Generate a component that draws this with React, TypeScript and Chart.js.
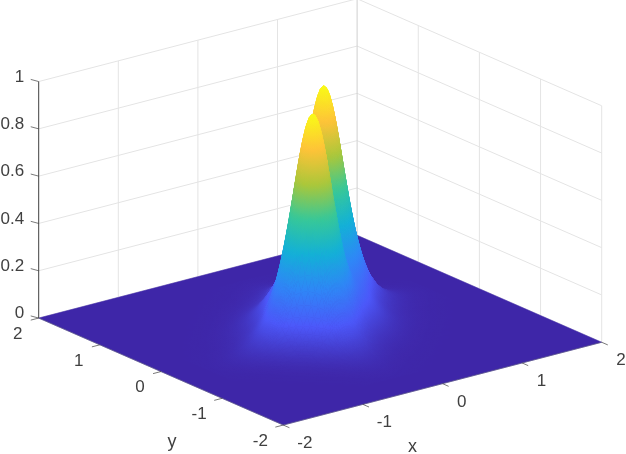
import React, { useEffect, useRef } from "react";
import { Chart, registerables } from "chart.js";

Chart.register(...registerables);

const xTicks = [-2, -1, 0, 1, 2];
const yTicks = [-2, -1, 0, 1, 2];
const zTicks = [0, 0.2, 0.4, 0.6, 0.8, 1];
const zTickLabels = ["0", "0.2", "0.4", "0.6", "0.8", "1"];

// Sample positions of the surface table, closer together round the two peaks
const gridAxis = [
  -1.6, -1.5, -1.4, -1.3, -1.2, -1.1, -1, -0.9, -0.8, -0.75, -0.7, -0.65, -0.6, -0.55, -0.5, -0.45, -0.425, -0.4,
  -0.375, -0.35, -0.325, -0.3, -0.275, -0.25, -0.225, -0.2, -0.175, -0.15, -0.1, -0.05, 0, 0.05, 0.1, 0.15, 0.175, 0.2,
  0.225, 0.25, 0.275, 0.3, 0.325, 0.35, 0.375, 0.4, 0.425, 0.45, 0.5, 0.55, 0.6, 0.65, 0.7, 0.75, 0.8, 0.9, 1, 1.1,
  1.2, 1.3, 1.4, 1.5, 1.6,
];
const peakOffsetX = -0.012;
const peakOffsetY = 0.015;
// Slices
const frontSlice = [
  0.0031, 0.0051, 0.0083, 0.0138, 0.0226, 0.0372, 0.0612, 0.1005, 0.1647, 0.2104, 0.2679, 0.3398, 0.4276, 0.532,
  0.6513, 0.7739, 0.8333, 0.8879, 0.934, 0.9698, 0.9923, 1, 0.9923, 0.9698, 0.934, 0.8879, 0.8333, 0.7739, 0.6513,
  0.532, 0.4276, 0.3398, 0.2679, 0.2104, 0.1862, 0.1647, 0.1455, 0.1287, 0.1138, 0.1005, 0.0888, 0.0784, 0.0692,
  0.0612, 0.054, 0.0477, 0.0372, 0.029, 0.0226, 0.0176, 0.0138, 0.0107, 0.0083, 0.0051, 0.0031, 0.0019, 0.0011,
  0.0007, 0.0004, 0.0003, 0.0002,
];
const backSlice = [
  0.0002, 0.0003, 0.0004, 0.0007, 0.0011, 0.0019, 0.0031, 0.0051, 0.0083, 0.0107, 0.0138, 0.0176, 0.0226, 0.029,
  0.0372, 0.0477, 0.054, 0.0612, 0.0692, 0.0784, 0.0888, 0.1005, 0.1138, 0.1287, 0.1455, 0.1647, 0.1862, 0.2104,
  0.2679, 0.3398, 0.4276, 0.532, 0.6513, 0.7739, 0.8333, 0.8879, 0.934, 0.9698, 0.9923, 1, 0.9923, 0.9698, 0.934,
  0.8879, 0.8333, 0.7739, 0.6513, 0.532, 0.4276, 0.3398, 0.2679, 0.2104, 0.1647, 0.1005, 0.0612, 0.0372, 0.0226,
  0.0138, 0.0083, 0.0051, 0.0031,
];
const frontHeight = 0.963;
const backHeight = 0.963;
const colorTop = 0.975;

const parula = [
  [62, 38, 168],
  [76, 88, 250],
  [46, 135, 247],
  [18, 177, 214],
  [55, 200, 151],
  [171, 199, 57],
  [254, 195, 56],
  [249, 251, 21],
];

const W = 626;
const H = 454;
type P = { x: number; y: number };
const project = (x: number, y: number, z: number): P => ({
  x: 320.2 + 79.6 * x - 61.15 * y,
  y: 330.15 - 20.7 * x - 26.75 * y - 236.5 * z,
});
const projectSurface = (i: number, j: number, z: number) =>
  project(gridAxis[i] + peakOffsetX, gridAxis[j] + peakOffsetY, z);

const colorOf = (z: number) => {
  const t = Math.min(1, Math.max(0, z / colorTop)) * (parula.length - 1);
  const i = Math.min(parula.length - 2, Math.floor(t));
  const f = t - i;
  const c = parula[i].map((v, k) => Math.round(v + (parula[i + 1][k] - v) * f));
  return `rgb(${c[0]},${c[1]},${c[2]})`;
};

const surfaceZ = (i: number, j: number) =>
  frontHeight * frontSlice[i] * frontSlice[j] + backHeight * backSlice[i] * backSlice[j];

// Paint for one triangle whose colour follows its height exactly
function trianglePaint(ctx: CanvasRenderingContext2D, p: P[], z: number[]) {
  const ux = p[1].x - p[0].x, uy = p[1].y - p[0].y, du = z[1] - z[0];
  const vx = p[2].x - p[0].x, vy = p[2].y - p[0].y, dv = z[2] - z[0];
  const det = ux * vy - uy * vx;
  const lo = Math.min(...z), hi = Math.max(...z);
  if (Math.abs(det) < 1e-6 || hi - lo < 1e-5) return colorOf((lo + hi) / 2);
  const gx = (du * vy - dv * uy) / det;
  const gy = (dv * ux - du * vx) / det;
  const g2 = gx * gx + gy * gy;
  const sx = p[0].x + (gx * (lo - z[0])) / g2, sy = p[0].y + (gy * (lo - z[0])) / g2;
  const ex = p[0].x + (gx * (hi - z[0])) / g2, ey = p[0].y + (gy * (hi - z[0])) / g2;
  const grad = ctx.createLinearGradient(sx, sy, ex, ey);
  const steps = 4;
  for (let s = 0; s <= steps; s++) grad.addColorStop(s / steps, colorOf(lo + ((hi - lo) * s) / steps));
  return grad;
}

const lineSet = (pts: P[], color: string, width: number) => ({
  data: pts,
  showLine: true,
  fill: false,
  borderColor: color,
  borderWidth: width,
  pointRadius: 0,
  clip: false as const,
});

const shapeSet = (pts: P[], paint: any, width: number) => ({
  data: pts,
  showLine: true,
  fill: "shape",
  backgroundColor: paint,
  borderColor: paint,
  borderWidth: width,
  pointRadius: 0,
  clip: false as const,
});

const GRID = "#e4e4e4";
const AXIS = "#404040";

function buildDatasets(ctx: CanvasRenderingContext2D) {
  const sets: any[] = [];
  // back walls
  for (const z of zTicks) {
    sets.push(lineSet([project(-2, 2, z), project(2, 2, z), project(2, -2, z)], GRID, 1));
  }
  for (const x of xTicks) {
    if (x !== -2) sets.push(lineSet([project(x, 2, 0), project(x, 2, 1)], x === 2 ? "#cfcfcf" : GRID, 1));
  }
  for (const y of yTicks) {
    if (y !== 2) sets.push(lineSet([project(2, y, 0), project(2, y, 1)], GRID, 1));
  }
  // floor of the surface
  sets.push(
    shapeSet(
      [project(-2, 2, 0), project(2, 2, 0), project(2, -2, 0), project(-2, -2, 0), project(-2, 2, 0)],
      colorOf(0),
      0.5,
    ),
  );
  // raised part of the surface, painted far to near
  for (let i = gridAxis.length - 2; i >= 0; i--) {
    for (let j = gridAxis.length - 2; j >= 0; j--) {
      const a = surfaceZ(i, j);
      const b = surfaceZ(i + 1, j);
      const c = surfaceZ(i + 1, j + 1);
      const d = surfaceZ(i, j + 1);
      if ((a + b + c + d) / 4 < 0.001) continue;
      const pa = projectSurface(i, j, a);
      const pb = projectSurface(i + 1, j, b);
      const pc = projectSurface(i + 1, j + 1, c);
      const pd = projectSurface(i, j + 1, d);
      // far triangle first, near triangle after it
      sets.push(shapeSet([pb, pc, pd, pb], trianglePaint(ctx, [pb, pc, pd], [b, c, d]), 0.6));
      sets.push(shapeSet([pa, pb, pd, pa], trianglePaint(ctx, [pa, pb, pd], [a, b, d]), 0.6));
    }
  }
  // axes and ticks
  sets.push(lineSet([project(-2, 2, 0), project(-2, 2, 1)], AXIS, 1));
  sets.push(lineSet([project(-2, 2, 0), project(-2, -2, 0)], "#5a5a7a", 0.6));
  sets.push(lineSet([project(-2, -2, 0), project(2, -2, 0)], "#5a5a7a", 0.6));
  for (const z of zTicks) {
    sets.push(lineSet([project(-2, 2, z), project(-2.1, 2, z)].map((p, k) => (k ? { x: p.x, y: p.y - 4.2 } : p)), AXIS, 0.7));
  }
  for (const y of yTicks) {
    sets.push(lineSet([project(-2, y, 0), project(-2.1, y, 0)], AXIS, 0.7));
  }
  for (const x of xTicks) {
    sets.push(lineSet([project(x, -2, 0), project(x, -2.1, 0)], AXIS, 0.7));
  }
  return sets.reverse();
}

const labelPlugin = {
  id: "axisText",
  afterDatasetsDraw(chart: any) {
    const { ctx, scales } = chart;
    const px = (p: P) => [scales.x.getPixelForValue(p.x), scales.y.getPixelForValue(p.y)];
    ctx.save();
    ctx.font = '17px "Liberation Sans", Arial, sans-serif';
    ctx.fillStyle = "#404040";
    ctx.textBaseline = "middle";
    ctx.textAlign = "right";
    zTicks.forEach((z, k) => {
      const [a, b] = px(project(-2, 2, z));
      ctx.fillText(zTickLabels[k], a - 14.5, b - 4.5);
    });
    ctx.textAlign = "center";
    for (const y of yTicks) {
      const [a, b] = px(project(-2, y, 0));
      ctx.fillText(String(y), a - (y < 0 ? 23 : 21), b + 16.2);
    }
    for (const x of xTicks) {
      const [a, b] = px(project(x, -2, 0));
      ctx.fillText(String(x), a + (x < 0 ? 21.5 : 19.3), b + 18.3);
    }
    ctx.font = '18px "Liberation Sans", Arial, sans-serif';
    ctx.fillText("x", 412.5, 447.5);
    ctx.fillText("y", 172, 442);
    ctx.restore();
  },
};

export default function App() {
  const ref = useRef<HTMLCanvasElement>(null);
  useEffect(() => {
    if (!ref.current) return;
    const ctx2d = ref.current.getContext("2d") as CanvasRenderingContext2D;
    const chart = new Chart(ref.current, {
      type: "scatter",
      data: { datasets: buildDatasets(ctx2d) },
      options: {
        responsive: false,
        animation: false,
        events: [],
        layout: { padding: 0 },
        plugins: { legend: { display: false }, tooltip: { enabled: false } },
        elements: { line: { tension: 0 } },
        scales: {
          x: { type: "linear", min: 0, max: W, display: false },
          y: { type: "linear", min: 0, max: H, reverse: true, display: false },
        },
      },
      plugins: [labelPlugin],
    } as any);
    return () => chart.destroy();
  }, []);
  return (
    <div style={{ position: "fixed", left: 0, top: 0, width: W, height: H, background: "#fff" }}>
      <canvas ref={ref} width={W} height={H} style={{ display: "block" }} />
    </div>
  );
}
